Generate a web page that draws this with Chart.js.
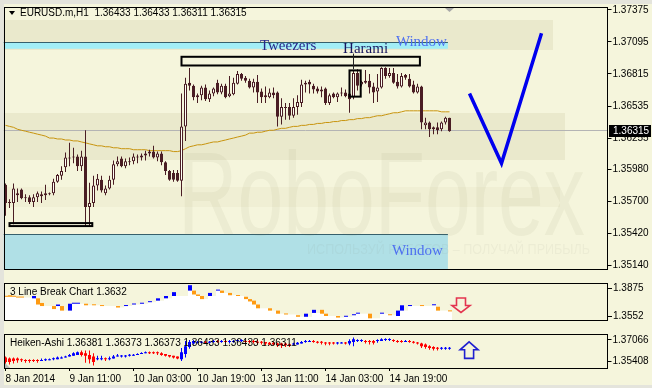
<!DOCTYPE html>
<html>
<head>
<meta charset="utf-8">
<title>EURUSD.m,H1</title>
<script src="https://cdn.jsdelivr.net/npm/chart.js@4.4.1/dist/chart.umd.min.js"></script>
<style>
  html, body { margin: 0; padding: 0; background: #e4e4dc; }
  #terminal { position: relative; width: 652px; height: 388px; overflow: hidden; background: #e4e4dc; }
  #terminal canvas { position: absolute; left: 0; }
</style>
</head>
<body>
<div id="terminal">
  <canvas id="mainChart" width="652" height="276" style="top:0"></canvas>
  <canvas id="lineBreakChart" width="652" height="51" style="top:276px"></canvas>
  <canvas id="heikenChart" width="652" height="61" style="top:327px"></canvas>
</div>
<script>
// EURUSD.m H1 - candles with MA, 3 Line Break and Heiken-Ashi sub windows

// ---- time axis ----
const slotCount = 151;   // bar slots, the right part is the empty chart shift
const labelStep = 16;    // a time label every 16 bars
const timeLabels = ['8 Jan 2014', '9 Jan 11:00', '10 Jan 03:00', '10 Jan 19:00', '13 Jan 11:00', '14 Jan 03:00', '14 Jan 19:00'];

// ---- H1 candles ----
const openP = [
  1.35848,1.35696,1.35687,1.35772,1.35806,1.35738,1.35738,1.35696,1.35738,1.35763,
  1.35755,1.35772,1.35772,1.35874,1.35925,1.36001,1.36086,1.36086,1.36094,1.36009,
  1.36094,1.35653,1.35687,1.35840,1.35891,1.35772,1.35814,1.35891,1.36026,1.36077,
  1.36009,1.36052,1.36052,1.36094,1.36086,1.36103,1.36120,1.36137,1.36086,1.36120,
  1.36043,1.35967,1.35950,1.35950,1.35882,1.36357,1.36739,1.36713,1.36611,1.36628,
  1.36696,1.36595,1.36645,1.36739,1.36654,1.36713,1.36620,1.36637,1.36730,1.36815,
  1.36781,1.36756,1.36696,1.36747,1.36662,1.36628,1.36611,1.36654,1.36654,1.36442,
  1.36527,1.36527,1.36450,1.36527,1.36561,1.36722,1.36747,1.36713,1.36688,1.36679,
  1.36688,1.36561,1.36645,1.36611,1.36654,1.36654,1.36645,1.36611,1.36823,1.36722,
  1.36756,1.36756,1.36705,1.36662,1.36696,1.36866,1.36798,1.36823,1.36747,1.36705,
  1.36807,1.36773,1.36722,1.36654,1.36705,1.36366,1.36391,1.36349,1.36349,1.36332,
  1.36391,1.36433
];
const highP = [
  1.35857,1.35721,1.35857,1.35814,1.35814,1.35763,1.35755,1.35763,1.35789,1.35789,
  1.35848,1.35780,1.35899,1.35942,1.36009,1.36128,1.36213,1.36170,1.36111,1.36145,
  1.36323,1.35865,1.35925,1.35942,1.35925,1.35840,1.35925,1.36060,1.36094,1.36094,
  1.36077,1.36086,1.36120,1.36111,1.36120,1.36145,1.36153,1.36187,1.36137,1.36137,
  1.36052,1.35975,1.35975,1.35975,1.36645,1.36781,1.36866,1.36722,1.36645,1.36713,
  1.36722,1.36671,1.36696,1.36764,1.36730,1.36730,1.36798,1.36781,1.36840,1.36823,
  1.36798,1.36773,1.36773,1.36807,1.36688,1.36705,1.36688,1.36696,1.36662,1.36603,
  1.36561,1.36561,1.36603,1.36628,1.36764,1.36756,1.36764,1.36730,1.36705,1.36705,
  1.36696,1.36645,1.36654,1.36654,1.36696,1.36679,1.36654,1.36840,1.36857,1.36756,
  1.36849,1.36815,1.36739,1.36815,1.36874,1.36874,1.36866,1.36866,1.36815,1.36823,
  1.36815,1.36815,1.36756,1.36730,1.36713,1.36433,1.36399,1.36357,1.36391,1.36399,
  1.36442,1.36433
];
const lowP = [
  1.35577,1.35645,1.35501,1.35696,1.35721,1.35696,1.35679,1.35653,1.35696,1.35687,
  1.35713,1.35755,1.35755,1.35865,1.35891,1.35958,1.36009,1.36035,1.35967,1.35967,
  1.35484,1.35484,1.35653,1.35797,1.35780,1.35755,1.35806,1.35848,1.36009,1.36001,
  1.35992,1.36018,1.36026,1.36035,1.36060,1.36060,1.36094,1.36077,1.36052,1.36018,
  1.35933,1.35882,1.35874,1.35874,1.35746,1.36230,1.36671,1.36586,1.36561,1.36586,
  1.36578,1.36569,1.36620,1.36637,1.36637,1.36603,1.36611,1.36628,1.36722,1.36756,
  1.36739,1.36688,1.36654,1.36561,1.36561,1.36561,1.36603,1.36603,1.36357,1.36374,
  1.36416,1.36416,1.36433,1.36459,1.36527,1.36654,1.36645,1.36645,1.36645,1.36611,
  1.36544,1.36544,1.36603,1.36569,1.36620,1.36611,1.36476,1.36595,1.36671,1.36705,
  1.36730,1.36645,1.36561,1.36569,1.36688,1.36773,1.36781,1.36730,1.36688,1.36696,
  1.36764,1.36696,1.36645,1.36645,1.36332,1.36332,1.36264,1.36289,1.36289,1.36315,
  1.36374,1.36311
];
const closeP = [
  1.35687,1.35687,1.35814,1.35755,1.35730,1.35730,1.35696,1.35738,1.35772,1.35746,
  1.35772,1.35763,1.35874,1.35933,1.35967,1.36086,1.36077,1.36094,1.36009,1.36094,
  1.35653,1.35687,1.35840,1.35899,1.35797,1.35814,1.35891,1.36026,1.36052,1.36009,
  1.36052,1.36043,1.36094,1.36086,1.36103,1.36120,1.36137,1.36086,1.36120,1.36043,
  1.35967,1.35891,1.35891,1.35882,1.36357,1.36730,1.36713,1.36611,1.36628,1.36696,
  1.36595,1.36645,1.36688,1.36654,1.36713,1.36611,1.36645,1.36739,1.36815,1.36773,
  1.36756,1.36696,1.36747,1.36654,1.36611,1.36611,1.36654,1.36628,1.36442,1.36527,
  1.36518,1.36450,1.36527,1.36569,1.36722,1.36739,1.36722,1.36679,1.36662,1.36662,
  1.36561,1.36628,1.36611,1.36645,1.36645,1.36620,1.36595,1.36823,1.36713,1.36747,
  1.36739,1.36696,1.36654,1.36696,1.36866,1.36798,1.36823,1.36739,1.36705,1.36798,
  1.36781,1.36705,1.36654,1.36705,1.36391,1.36391,1.36332,1.36332,1.36323,1.36391,
  1.36433,1.36315
];
// moving average (orange line)
const maP = [
  1.36366,1.36357,1.36349,1.36332,1.36323,1.36315,1.36306,1.36298,1.36289,1.36281,
  1.36272,1.36255,1.36255,1.36247,1.36247,1.36238,1.36238,1.36230,1.36230,1.36221,
  1.36213,1.36204,1.36196,1.36187,1.36187,1.36179,1.36179,1.36170,1.36170,1.36162,
  1.36162,1.36162,1.36153,1.36153,1.36153,1.36153,1.36145,1.36145,1.36145,1.36145,
  1.36145,1.36145,1.36137,1.36137,1.36145,1.36162,1.36179,1.36187,1.36196,1.36196,
  1.36204,1.36213,1.36221,1.36221,1.36230,1.36238,1.36247,1.36255,1.36264,1.36272,
  1.36281,1.36298,1.36298,1.36306,1.36306,1.36315,1.36323,1.36323,1.36332,1.36340,
  1.36340,1.36349,1.36357,1.36357,1.36366,1.36366,1.36374,1.36374,1.36383,1.36383,
  1.36391,1.36391,1.36399,1.36399,1.36408,1.36408,1.36416,1.36416,1.36425,1.36425,
  1.36433,1.36433,1.36442,1.36450,1.36450,1.36459,1.36467,1.36476,1.36476,1.36484,
  1.36493,1.36493,1.36493,1.36493,1.36493,1.36493,1.36493,1.36493,1.36493,1.36484,
  1.36484,1.36484
];
const priceTicks = [1.37375, 1.37095, 1.36815, 1.36535, 1.36255, 1.35980, 1.35700, 1.35420, 1.35140];
const priceRange = [1.35111, 1.37400];

// blue forecast line (bar index / price)
const vLineBars = [116, 124, 134];
const vLinePrices = [1.36645, 1.36035, 1.37171];

// ---- 3 Line Break sub window ----
const lbOpen = [
  1.3785,1.3794,1.3785,1.3776,1.3776,null,null,1.3758,1.3758,1.3704,
  null,null,1.3668,1.3668,1.3668,null,1.3615,1.3695,1.3695,null,
  1.3695,null,1.3686,null,1.3677,null,null,null,1.3668,null,
  1.3668,null,1.3686,null,1.3695,null,1.3713,null,1.3731,null,
  1.3758,null,1.3785,null,null,null,1.3848,1.3848,1.3803,1.3785,
  null,1.3785,null,1.3848,1.3848,null,1.3821,null,1.3794,null,
  1.3776,1.3749,1.3731,1.3686,null,null,1.3642,null,1.3615,null,
  1.3579,null,null,1.3561,null,1.3543,null,1.3588,null,1.3624,
  1.3579,null,null,1.3552,null,1.3543,null,1.3561,1.3579,null,
  null,1.3579,null,null,1.3579,null,1.3570,null,1.3552,1.3615,
  null,1.3668,null,null,1.3677,null,null,1.3677,1.3660,null,
  null,1.3615
];
const lbClose = [
  1.3776,1.3776,1.3776,1.3767,1.3767,null,null,1.3785,1.3686,1.3668,
  null,null,1.3633,1.3686,1.3615,null,1.3695,1.3704,1.3704,null,
  1.3677,null,1.3677,null,1.3668,null,null,null,1.3651,null,
  1.3677,null,1.3695,null,1.3704,null,1.3722,null,1.3758,null,
  1.3785,null,1.3830,null,null,null,1.3911,1.3803,1.3785,1.3749,
  null,1.3821,null,1.3857,1.3821,null,1.3794,null,1.3785,null,
  1.3749,1.3722,1.3686,1.3642,null,null,1.3615,null,1.3579,null,
  1.3570,null,null,1.3543,null,1.3579,null,1.3624,null,1.3579,
  1.3552,null,null,1.3534,null,1.3552,null,1.3570,1.3588,null,
  null,1.3525,null,null,1.3588,null,1.3561,null,1.3615,1.3677,
  null,1.3677,null,null,1.3668,null,null,1.3686,1.3615,null,
  null,1.3606
];
const lbValue = 1.3632;   // value shown in the window title
const lbTicks = [1.3875, 1.3552];
const lbRange = [1.35054, 1.39366];

// ---- Heiken-Ashi sub window ----
const haOpen = [
  1.3572,1.3565,1.3565,1.3565,1.3559,1.3552,1.3552,1.3552,1.3552,1.3545,
  1.3552,1.3552,1.3559,1.3559,1.3565,1.3572,1.3579,1.3585,1.3592,1.3612,
  1.3605,1.3592,1.3579,1.3559,1.3559,1.3565,1.3559,1.3565,1.3579,1.3579,
  1.3579,1.3585,1.3585,1.3592,1.3599,1.3605,1.3612,1.3612,1.3612,1.3605,
  1.3599,1.3592,1.3585,1.3579,1.3559,1.3599,1.3652,1.3678,1.3685,1.3685,
  1.3691,1.3685,1.3691,1.3698,1.3691,1.3698,1.3691,1.3691,1.3698,1.3698,
  1.3698,1.3698,1.3698,1.3691,1.3691,1.3691,1.3685,1.3685,1.3678,1.3678,
  1.3678,1.3671,1.3671,1.3671,1.3678,1.3691,1.3691,1.3698,1.3691,1.3691,
  1.3685,1.3685,1.3685,1.3678,1.3678,1.3685,1.3678,1.3691,1.3698,1.3698,
  1.3698,1.3698,1.3698,1.3698,1.3698,1.3705,1.3705,1.3705,1.3698,1.3698,
  1.3691,1.3698,1.3691,1.3685,1.3678,1.3671,1.3658,1.3652,1.3645,1.3638,
  1.3638,1.3638
];
const haClose = [
  1.3539,1.3539,1.3545,1.3552,1.3552,1.3545,1.3545,1.3545,1.3545,1.3552,
  1.3559,1.3559,1.3565,1.3572,1.3572,1.3579,1.3592,1.3605,1.3612,1.3592,
  1.3585,1.3559,1.3539,1.3565,1.3565,1.3559,1.3565,1.3579,1.3585,1.3585,
  1.3585,1.3592,1.3592,1.3599,1.3605,1.3612,1.3605,1.3605,1.3605,1.3592,
  1.3585,1.3579,1.3572,1.3565,1.3612,1.3658,1.3691,1.3698,1.3691,1.3691,
  1.3685,1.3691,1.3698,1.3691,1.3698,1.3691,1.3698,1.3698,1.3705,1.3705,
  1.3691,1.3691,1.3691,1.3685,1.3685,1.3678,1.3671,1.3671,1.3665,1.3665,
  1.3665,1.3665,1.3678,1.3685,1.3691,1.3698,1.3698,1.3691,1.3685,1.3685,
  1.3678,1.3678,1.3678,1.3685,1.3685,1.3678,1.3698,1.3711,1.3705,1.3705,
  1.3691,1.3691,1.3685,1.3705,1.3711,1.3711,1.3711,1.3698,1.3691,1.3691,
  1.3698,1.3691,1.3685,1.3678,1.3658,1.3652,1.3645,1.3638,1.3638,1.3645,
  1.3645,1.3645
];
const haHigh = [
  1.3579,1.3572,1.3572,1.3572,1.3565,1.3559,1.3559,1.3559,1.3559,1.3565,
  1.3565,1.3565,1.3572,1.3579,1.3579,1.3585,1.3599,1.3612,1.3618,1.3625,
  1.3625,1.3625,1.3605,1.3585,1.3585,1.3572,1.3579,1.3592,1.3599,1.3592,
  1.3592,1.3599,1.3599,1.3605,1.3612,1.3618,1.3618,1.3618,1.3618,1.3612,
  1.3599,1.3592,1.3585,1.3579,1.3645,1.3698,1.3705,1.3705,1.3698,1.3698,
  1.3698,1.3698,1.3705,1.3705,1.3705,1.3705,1.3705,1.3705,1.3711,1.3711,
  1.3705,1.3705,1.3705,1.3705,1.3698,1.3691,1.3691,1.3691,1.3685,1.3685,
  1.3685,1.3678,1.3685,1.3691,1.3698,1.3705,1.3705,1.3705,1.3698,1.3698,
  1.3691,1.3691,1.3691,1.3691,1.3691,1.3691,1.3711,1.3725,1.3711,1.3711,
  1.3705,1.3705,1.3705,1.3711,1.3718,1.3718,1.3718,1.3711,1.3705,1.3705,
  1.3705,1.3705,1.3698,1.3691,1.3685,1.3678,1.3665,1.3658,1.3652,1.3652,
  1.3652,1.3652
];
const haLow = [
  1.3512,1.3519,1.3526,1.3532,1.3539,1.3532,1.3532,1.3539,1.3532,1.3545,
  1.3545,1.3552,1.3552,1.3559,1.3565,1.3572,1.3579,1.3585,1.3592,1.3579,
  1.3532,1.3526,1.3512,1.3552,1.3552,1.3545,1.3552,1.3565,1.3579,1.3572,
  1.3572,1.3579,1.3585,1.3592,1.3599,1.3605,1.3599,1.3599,1.3592,1.3585,
  1.3579,1.3572,1.3565,1.3559,1.3545,1.3572,1.3638,1.3671,1.3678,1.3678,
  1.3678,1.3678,1.3685,1.3685,1.3685,1.3685,1.3678,1.3685,1.3691,1.3691,
  1.3685,1.3678,1.3678,1.3671,1.3671,1.3665,1.3665,1.3665,1.3652,1.3645,
  1.3652,1.3652,1.3665,1.3671,1.3678,1.3685,1.3691,1.3685,1.3678,1.3671,
  1.3665,1.3665,1.3671,1.3671,1.3678,1.3671,1.3665,1.3658,1.3691,1.3691,
  1.3678,1.3671,1.3671,1.3685,1.3698,1.3698,1.3698,1.3691,1.3685,1.3685,
  1.3691,1.3685,1.3678,1.3671,1.3645,1.3638,1.3632,1.3625,1.3625,1.3632,
  1.3632,1.3632
];
const haTitleValues = [1.36381, 1.36373, 1.36373, 1.36433, 1.36433, 1.36311];
const haTicks = [1.37066, 1.35408];
const haRange = [1.34925, 1.37510];

// ---- analysis objects drawn on the price window (bar index / price) ----
const zones = [
  { from: -0.5, to: 110.6, top: 1.37095, bottom: 1.37035, fill: '#a2eef6', label: 'Window', labelAt: 97.6, labelPrice: 1.37061 },
  { from: -0.5, to: 110.6, top: 1.35418, bottom: 1.34900, fill: '#b0e0e6', label: 'Window', labelAt: 96.6, labelPrice: 1.35232 }
];
const boxes = [
  { from: 44, to: 103.6, top: 1.36965, bottom: 1.36889 },  // Tweezers
  { from: 86, to: 88.8, top: 1.36846, bottom: 1.36617 },   // Harami
  { from: 1, to: 21.7, top: 1.35512, bottom: 1.35486 }     // lows
];
const notes = [
  { text: 'Tweezers', at: 63.6, price: 1.37027, color: '#27278a' },
  { text: 'Harami', at: 84.4, price: 1.36997, color: '#16165e' }
];
const haramiStem = { at: 86.9, top: 1.36993, bottom: 1.36857 };
const signalArrows = {
  lineBreak: { at: 113.75, from: 1.3761, to: 1.3593, color: '#e3344f' },
  heiken: { at: 115.9, from: 1.35654, to: 1.36914, color: '#2020d0' }
};

// ---- styling ----
Chart.defaults.font.family = '"Liberation Sans", Arial, sans-serif';
Chart.defaults.font.size = 10;
Chart.defaults.color = '#000';

const paper = '#f5f5dc';
const frame = '#e4e4dc';
const maroon = '#4a1d24';
const bars = Array.from({ length: slotCount }, (_, i) => i);

function priceAxis(ticks, digits, range, width) {
    return {
        position: 'right',
        min: range[0],
        max: range[1],
        beginAtZero: false,
        afterBuildTicks: s => { s.ticks = ticks.map(v => ({ value: v })); },
        afterFit: s => { s.width = width; },
        ticks: { callback: v => v.toFixed(digits), padding: 1, autoSkip: false, color: '#000' },
        grid: { drawOnChartArea: false, drawTicks: true, tickLength: 4, color: '#000' },
        border: { display: false }
    };
}

function hiddenTime() {
    return { type: 'category', offset: true, display: false };
}

function baseOptions(padding, scales) {
    return {
        responsive: false,
        animation: false,
        devicePixelRatio: 1,
        events: [],
        layout: { padding: padding },
        plugins: { legend: { display: false }, tooltip: { enabled: false } },
        scales: scales
    };
}

function paintPaper(chart, top, bottomTrim) {
    const ctx = chart.ctx;
    ctx.save();
    ctx.fillStyle = frame;
    ctx.fillRect(0, 0, chart.width, chart.height);
    ctx.fillStyle = paper;
    ctx.fillRect(4, top, chart.width - 4, chart.height - top - bottomTrim);
    ctx.restore();
}

function panelBorder(chart) {
    const { ctx, chartArea: a } = chart;
    const l = Math.round(a.left), r = Math.round(a.right) - 1;
    const t = Math.round(a.top), b = Math.round(a.bottom);
    ctx.save();
    ctx.fillStyle = '#000';
    ctx.fillRect(l, t, r - l + 1, 1);
    ctx.fillRect(l, b, r - l + 1, 1);
    ctx.fillRect(l, t, 1, b - t + 1);
    ctx.fillRect(r, t, 1, b - t + 1);
    ctx.restore();
}

function clipArea(chart) {
    const { ctx, chartArea: a } = chart;
    ctx.beginPath();
    ctx.rect(a.left, a.top, a.right - a.left, a.bottom - a.top);
    ctx.clip();
}

function panelTitle(chart, text) {
    const ctx = chart.ctx;
    ctx.save();
    ctx.font = '10px "Liberation Sans", Arial, sans-serif';
    ctx.fillStyle = '#000';
    ctx.textBaseline = 'middle';
    ctx.fillText(text, 10, chart.chartArea.top + 9);
    ctx.restore();
}

function blockArrow(chart, arrow) {
    const { ctx, scales: { x, y } } = chart;
    const cx = x.getPixelForValue(arrow.at);
    const y0 = y.getPixelForValue(arrow.from), y1 = y.getPixelForValue(arrow.to);
    const neck = y1 - (y1 - y0) * 0.48;
    const half = 9, shaft = 4.5;
    ctx.save();
    ctx.beginPath();
    ctx.moveTo(cx - shaft, y0);
    ctx.lineTo(cx + shaft, y0);
    ctx.lineTo(cx + shaft, neck);
    ctx.lineTo(cx + half, neck);
    ctx.lineTo(cx, y1);
    ctx.lineTo(cx - half, neck);
    ctx.lineTo(cx - shaft, neck);
    ctx.closePath();
    ctx.lineWidth = 1.6;
    ctx.strokeStyle = arrow.color;
    ctx.stroke();
    ctx.restore();
}

// ---- price window decorations ----
const mainDecor = {
    id: 'mainDecor',
    beforeDraw(chart) {
        paintPaper(chart, 4, 0);
    },
    beforeDatasetsDraw(chart) {
        const { ctx, chartArea: a, scales: { x, y } } = chart;
        ctx.save();
        clipArea(chart);
        // watermark bands
        ctx.fillStyle = 'rgba(150,140,80,0.11)';
        ctx.fillRect(a.left, 20, 553 - a.left, 30);
        ctx.fillRect(a.left, 113, 565 - a.left, 47);
        ctx.fillStyle = 'rgba(150,140,80,0.05)';
        ctx.fillRect(a.left, 187, 560 - a.left, 20);
        // window zones
        zones.forEach(z => {
            const x1 = x.getPixelForValue(z.from), x2 = x.getPixelForValue(z.to);
            const y1 = y.getPixelForValue(z.top), y2 = y.getPixelForValue(z.bottom);
            ctx.fillStyle = z.fill;
            ctx.fillRect(x1, Math.round(y1), x2 - x1, y2 - Math.round(y1));
            ctx.fillStyle = '#36606c';
            ctx.fillRect(x1, Math.round(y1), x2 - x1, 1);
        });
        // RoboForex watermark
        ctx.fillStyle = 'rgba(120,115,70,0.065)';
        ctx.font = '118px "Liberation Sans", Arial, sans-serif';
        const w = ctx.measureText('RoboForex').width;
        ctx.save();
        ctx.translate(178, 235);
        ctx.scale(407 / w, 1);
        ctx.fillText('RoboForex', 0, 0);
        ctx.restore();
        ctx.font = '15px "Liberation Sans", Arial, sans-serif';
        const s = 'ИСПОЛЬЗУЙ РОБОТОВ – ПОЛУЧАЙ ПРИБЫЛЬ';
        const sw = ctx.measureText(s).width;
        ctx.save();
        ctx.translate(307, 254);
        ctx.scale(283 / sw, 1);
        ctx.fillStyle = 'rgba(120,120,110,0.065)';
        ctx.fillText(s, 0, 0);
        ctx.restore();
        // bid line
        const py = Math.round(y.getPixelForValue(closeP[closeP.length - 1])) - 0.5;
        ctx.strokeStyle = '#b4b4b4';
        ctx.lineWidth = 1;
        ctx.beginPath();
        ctx.moveTo(a.left, py);
        ctx.lineTo(a.right, py);
        ctx.stroke();
        ctx.restore();
    },
    afterDraw(chart) {
        const { ctx, chartArea: a, scales: { x, y } } = chart;
        panelBorder(chart);
        ctx.save();
        clipArea(chart);
        // rectangles
        ctx.strokeStyle = '#000';
        ctx.lineWidth = 2;
        boxes.forEach(b => {
            const x1 = x.getPixelForValue(b.from), x2 = x.getPixelForValue(b.to);
            const y1 = y.getPixelForValue(b.top), y2 = y.getPixelForValue(b.bottom);
            ctx.strokeRect(x1, y1, x2 - x1, y2 - y1);
        });
        ctx.lineWidth = 1;
        ctx.strokeStyle = '#222';
        const sx = Math.round(x.getPixelForValue(haramiStem.at)) + 0.5;
        ctx.beginPath();
        ctx.moveTo(sx, y.getPixelForValue(haramiStem.top));
        ctx.lineTo(sx, y.getPixelForValue(haramiStem.bottom));
        ctx.stroke();
        // texts
        ctx.font = '15px "Liberation Serif", "Times New Roman", serif';
        ctx.textBaseline = 'alphabetic';
        notes.forEach(n => {
            ctx.fillStyle = n.color;
            ctx.fillText(n.text, x.getPixelForValue(n.at), y.getPixelForValue(n.price));
        });
        ctx.fillStyle = '#4d6ff0';
        zones.forEach(z => ctx.fillText(z.label, x.getPixelForValue(z.labelAt), y.getPixelForValue(z.labelPrice)));
        // chart shift marker
        const mx = x.getPixelForValue(openP.length - 1);
        ctx.fillStyle = '#a8a8a8';
        ctx.beginPath();
        ctx.moveTo(mx - 4.5, a.top + 1);
        ctx.lineTo(mx + 4.5, a.top + 1);
        ctx.lineTo(mx, a.top + 5);
        ctx.fill();
        ctx.restore();

        // header
        const last = openP.length - 1;
        ctx.save();
        ctx.fillStyle = '#000';
        ctx.beginPath();
        ctx.moveTo(9, 11); ctx.lineTo(15, 11); ctx.lineTo(12, 15);
        ctx.fill();
        ctx.font = '10px "Liberation Sans", Arial, sans-serif';
        ctx.textBaseline = 'alphabetic';
        const ohlc = [openP[last], highP[last], lowP[last], closeP[last]].map(v => v.toFixed(5)).join(' ');
        ctx.fillText('EURUSD.m,H1  ' + ohlc, 20, 16);
        // bid price tag on the axis
        const py = Math.round(y.getPixelForValue(closeP[last]));
        ctx.fillStyle = '#000';
        ctx.fillRect(Math.round(a.right) + 1, py - 6, chart.width - Math.round(a.right) - 2, 12);
        ctx.fillStyle = '#fff';
        ctx.textBaseline = 'middle';
        ctx.fillText(closeP[last].toFixed(5), Math.round(a.right) + 5, py);
        ctx.restore();
    }
};

new Chart(document.getElementById('mainChart'), {
    type: 'bar',
    data: {
        labels: bars,
        datasets: [
            {
                type: 'line',
                data: vLineBars.map((b, k) => ({ x: b, y: vLinePrices[k] })),
                borderColor: '#0000ee',
                borderWidth: 3.5,
                pointRadius: 0,
                order: 0
            },
            {
                data: openP.map((o, i) => [o, closeP[i]]),
                backgroundColor: openP.map((o, i) => closeP[i] > o ? '#fffff6' : maroon),
                borderColor: maroon,
                borderWidth: 1,
                borderSkipped: false,
                barThickness: 3,
                minBarLength: 1,
                grouped: false,
                inflateAmount: 0,
                order: 1
            },
            {
                data: lowP.map((l, i) => [l, highP[i]]),
                backgroundColor: maroon,
                barThickness: 1,
                grouped: false,
                inflateAmount: 0,
                order: 2
            },
            {
                type: 'line',
                data: maP,
                borderColor: '#c8940e',
                borderWidth: 1,
                pointRadius: 0,
                order: 3
            }
        ]
    },
    options: baseOptions({ left: 3.5, top: 4, right: 0, bottom: 2 }, {
        x: hiddenTime(),
        y: priceAxis(priceTicks, 5, priceRange, 44.5)
    }),
    plugins: [mainDecor]
});

// ---- 3 Line Break window ----
// white area under the bricks reaches the bottom edge of the last brick
const lbBase = [];
lbOpen.forEach((o, i) => {
    lbBase.push(o === null ? (i > 0 ? lbBase[i - 1] : null) : Math.min(o, lbClose[i]));
});

new Chart(document.getElementById('lineBreakChart'), {
    type: 'bar',
    data: {
        labels: bars,
        datasets: [
            {
                data: lbOpen.map((o, i) => o === null ? null : [o, lbClose[i]]),
                backgroundColor: lbOpen.map((o, i) => (o !== null && lbClose[i] > o) ? '#0000ff' : '#ff9a12'),
                barThickness: 4,
                minBarLength: 1,
                grouped: false,
                inflateAmount: 0,
                order: 0
            },
            {
                data: lbBase.map(v => v === null ? null : [lbRange[0], v]),
                backgroundColor: '#ffffff',
                barThickness: 4,
                grouped: false,
                inflateAmount: 0,
                order: 1
            }
        ]
    },
    options: baseOptions({ left: 4, top: 1, right: 0, bottom: 1 }, {
        x: hiddenTime(),
        y: priceAxis(lbTicks, 4, lbRange, 44)
    }),
    plugins: [{
        id: 'lbDecor',
        beforeDraw(chart) { paintPaper(chart, 0, 0); },
        afterDraw(chart) {
            panelBorder(chart);
            panelTitle(chart, '3 Line Break Chart ' + lbValue.toFixed(4));
            blockArrow(chart, signalArrows.lineBreak);
        }
    }]
});

// ---- Heiken-Ashi window ----
const haColors = haOpen.map((o, i) => haClose[i] >= o ? '#0000ff' : '#ff0000');

new Chart(document.getElementById('heikenChart'), {
    type: 'bar',
    data: {
        labels: bars,
        datasets: [
            {
                data: haOpen.map((o, i) => [o, haClose[i]]),
                backgroundColor: haColors,
                barThickness: 3,
                minBarLength: 1,
                grouped: false,
                inflateAmount: 0,
                order: 0
            },
            {
                data: haLow.map((l, i) => [l, haHigh[i]]),
                backgroundColor: haColors,
                barThickness: 1,
                grouped: false,
                inflateAmount: 0,
                order: 1
            }
        ]
    },
    options: baseOptions({ left: 3.5, top: 2, right: 0, bottom: 0 }, {
        x: {
            type: 'category',
            offset: true,
            position: 'bottom',
            afterFit: s => { s.height = 20; },
            border: { display: false },
            grid: {
                offset: false,
                drawOnChartArea: false,
                drawTicks: true,
                tickLength: 3,
                color: c => (c.index % labelStep === 0 && timeLabels[c.index / labelStep]) ? '#000' : 'rgba(0,0,0,0)'
            },
            ticks: {
                autoSkip: false,
                maxRotation: 0,
                minRotation: 0,
                align: 'start',
                padding: 2,
                color: '#000',
                callback: (v, i) => (i % labelStep === 0 && timeLabels[i / labelStep]) ? timeLabels[i / labelStep] : ''
            }
        },
        y: priceAxis(haTicks, 5, haRange, 44.5)
    }),
    plugins: [{
        id: 'haDecor',
        beforeDraw(chart) { paintPaper(chart, 0, 3); },
        afterDraw(chart) {
            const { ctx, chartArea: a } = chart;
            // grey corner mark of the sub window
            ctx.save();
            ctx.fillStyle = '#b8b8b8';
            ctx.beginPath();
            ctx.moveTo(Math.round(a.left), a.bottom);
            ctx.lineTo(Math.round(a.left) + 6, a.bottom);
            ctx.lineTo(Math.round(a.left), a.bottom - 6);
            ctx.fill();
            ctx.restore();
            panelBorder(chart);
            panelTitle(chart, 'Heiken-Ashi ' + haTitleValues.map(v => v.toFixed(5)).join(' '));
            blockArrow(chart, signalArrows.heiken);
        }
    }]
});
</script>
</body>
</html>
